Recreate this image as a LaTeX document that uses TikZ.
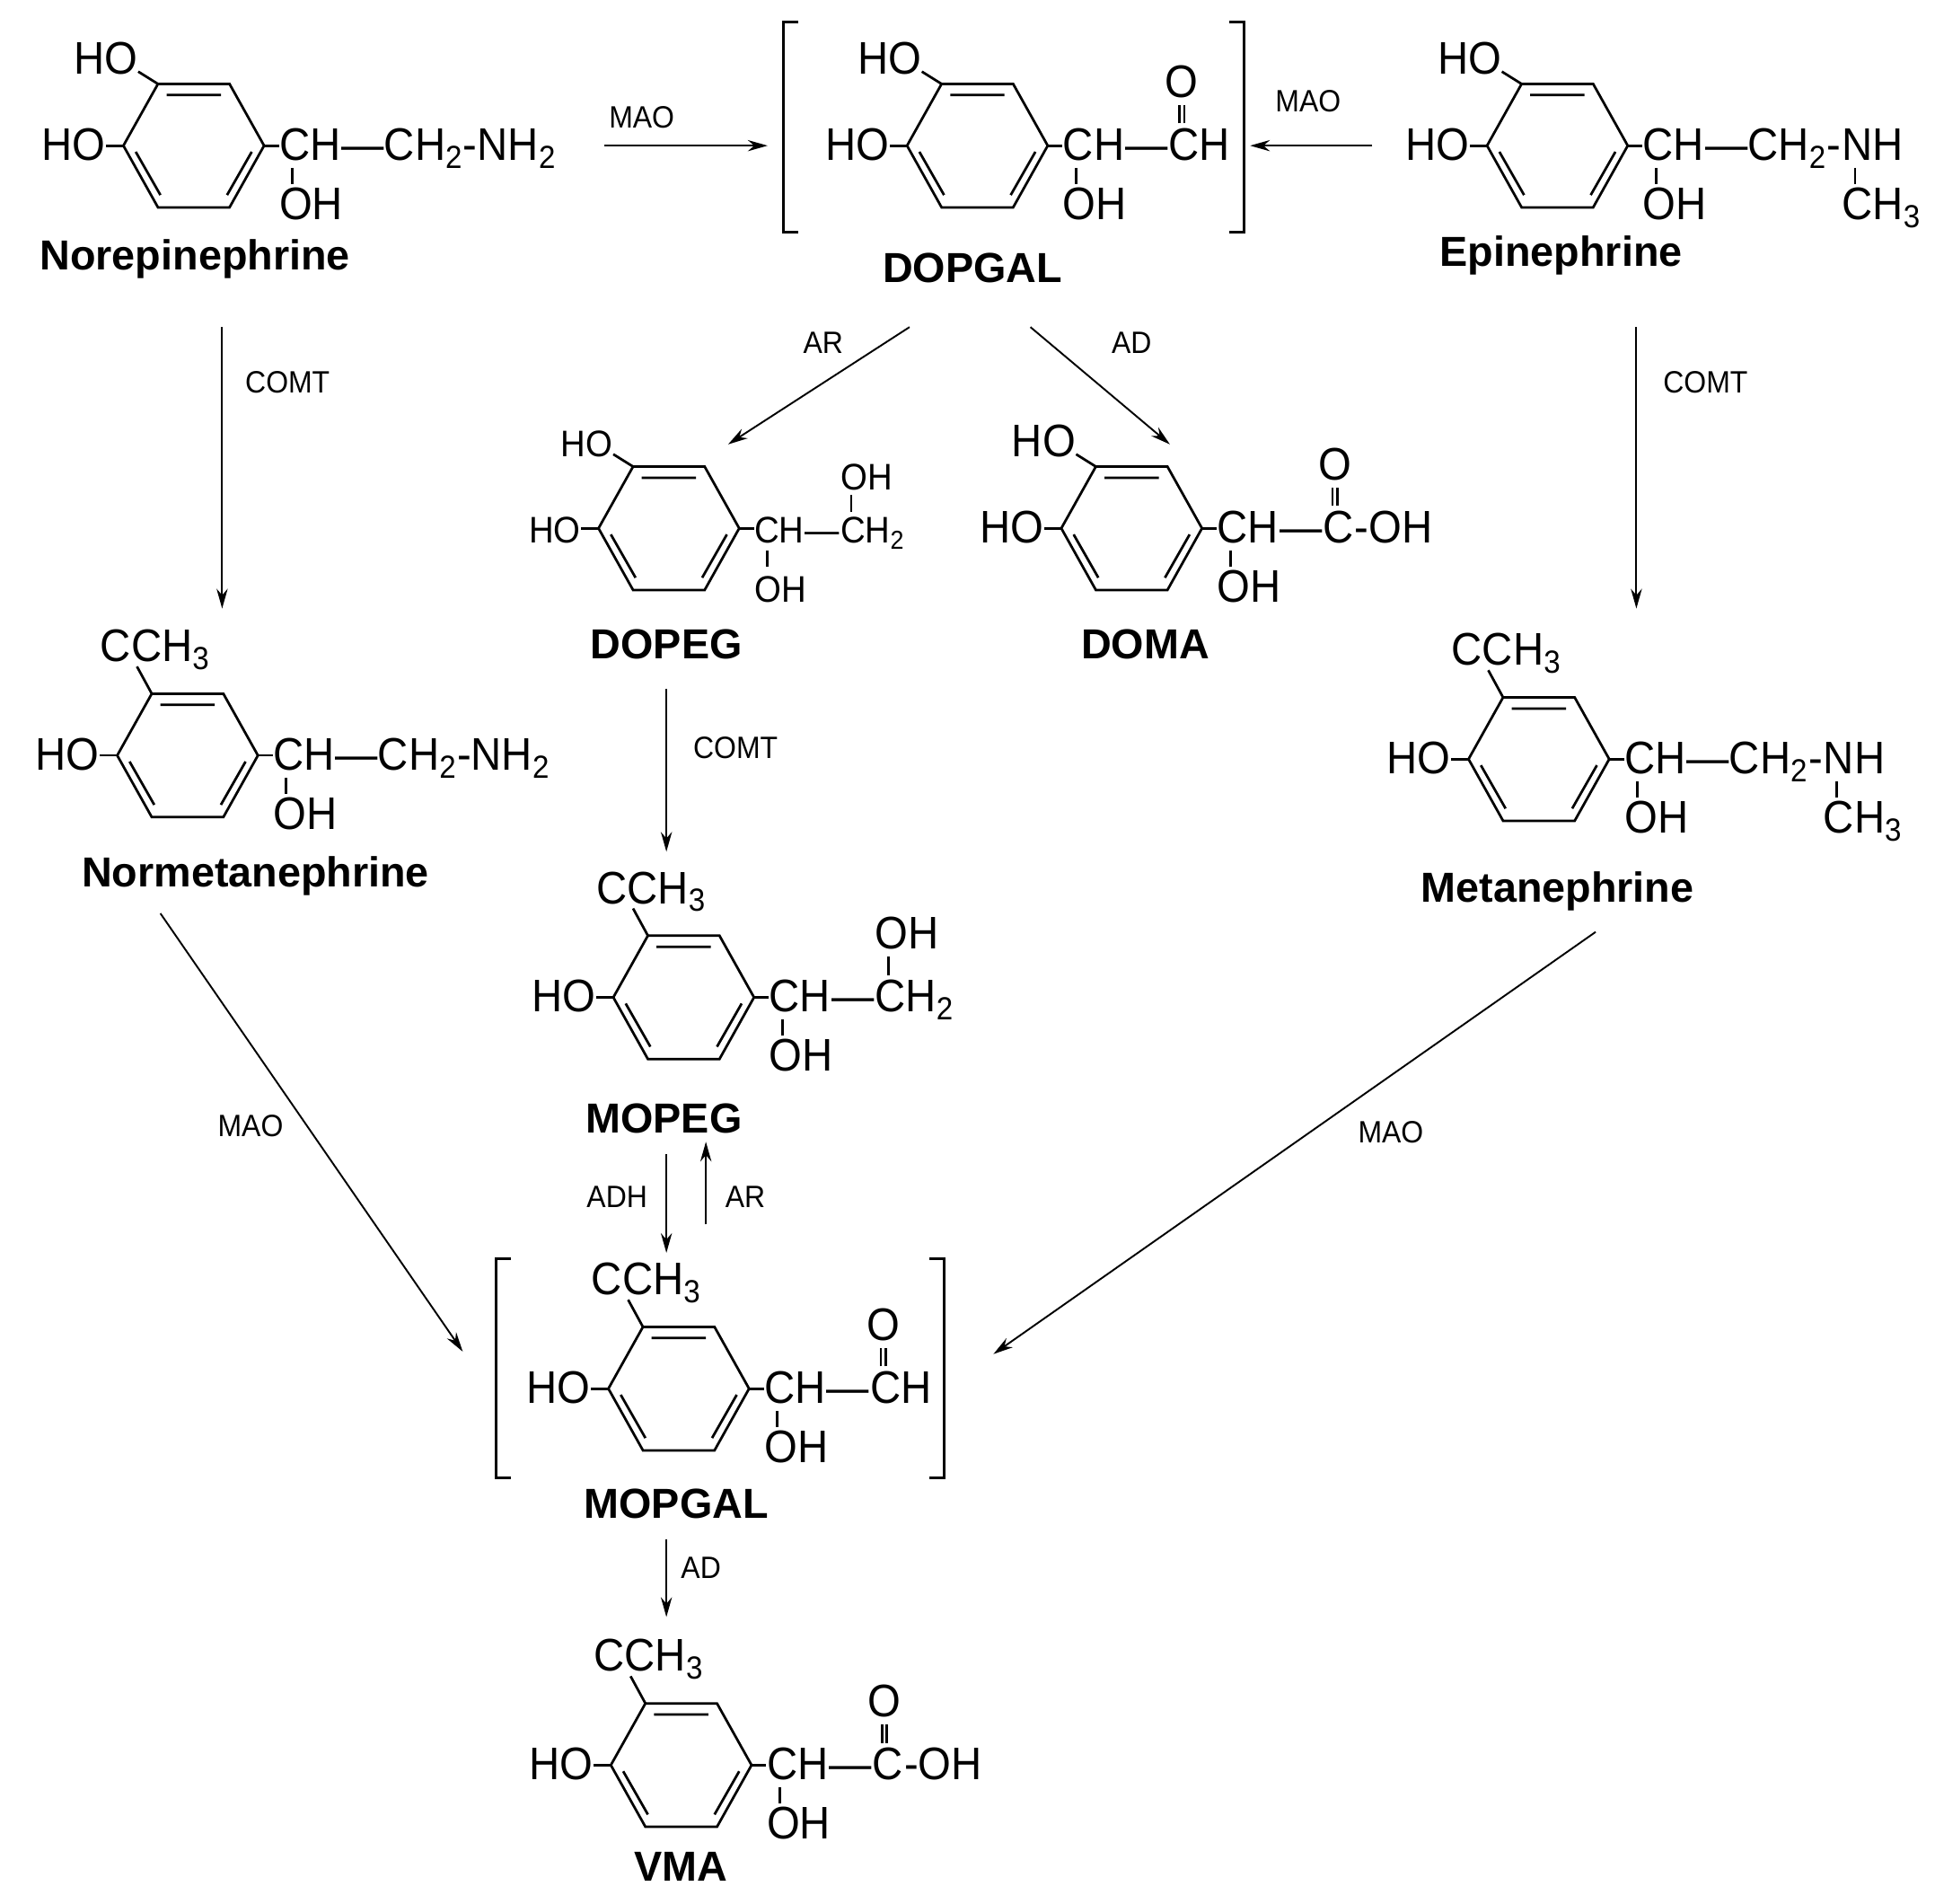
\documentclass[tikz,border=0pt]{standalone}
\usepackage{fontspec}
\newfontfamily\chem{Liberation Sans}[FakeStretch=0.93]
\newfontfamily\chemw{Liberation Sans}
\usetikzlibrary{arrows.meta,calc}

\tikzset{
  bond/.style={line width=1pt},
  chem/.style={font=\chem\fontsize{18.5}{20}\selectfont, inner sep=0pt},
  chems/.style={font=\chem\fontsize{15}{17}\selectfont, inner sep=0pt},
  title/.style={font=\chemw\bfseries\fontsize{17}{19}\selectfont, inner sep=0pt},
  enz/.style={font=\chem\fontsize{12.5}{14}\selectfont, inner sep=0pt},
  rx/.style={line width=0.7pt, -{Stealth[length=8pt,width=4.5pt]}},
}

% benzene ring, flat top and bottom
\newcommand\benz[3]{%
  \begin{scope}[shift={(#2,#3)}]
    \coordinate (#1-l) at (-57,0);  \coordinate (#1-r) at (57,0);
    \coordinate (#1-tl) at (-29,-50); \coordinate (#1-tr) at (29,-50);
    \coordinate (#1-bl) at (-29,50); \coordinate (#1-br) at (29,50);
    \draw[bond] (#1-l)--(#1-tl)--(#1-tr)--(#1-r)--(#1-br)--(#1-bl)--cycle;
    \draw[bond] (-22,-41)--(22,-41) (-47,5)--(-27,40) (47,5)--(27,40);
  \end{scope}}
% ring with two OH groups
\newcommand\catechol[4]{%
  \benz{#1}{#2}{#3}
  \draw[bond] (#1-tl) -- ++(-16,-10);
  \node[#4,anchor=base east] (#1-ho2) at ($(#1-tl)+(-16,-8)$) {HO};
  \draw[bond] (#1-l) -- ++(-14,0);
  \node[#4,anchor=base east] (#1-ho1) at ($(#1-l)+(-14,12)$) {HO};}
% ring with methoxy and OH
\newcommand\guaiacol[4]{%
  \benz{#1}{#2}{#3}
  \draw[bond] (#1-tl) -- ++(-12,-22);
  \node[#4,anchor=base west] (#1-me) at ($(#1-tl)+(-42,-26)$) {CCH\textsubscript{3}};
  \draw[bond] (#1-l) -- ++(-14,0);
  \node[#4,anchor=base east] (#1-ho1) at ($(#1-l)+(-14,12)$) {HO};}
% CH(OH) side chain start
\newcommand\sidechain[3]{%
  \draw[bond] (#1-r) -- ++(12,0);
  \node[#2,anchor=base west] (#1-c) at ($(#1-r)+(12,12)$) {CH};
  \node[#2,anchor=base west] (#1-d) at (#1-c.base east) {#3};
  \draw[bond] ($(#1-c.base west)+(11,6)$) -- ++(0,13);
  \node[#2,anchor=base west] (#1-oh) at ($(#1-c.base west)+(0,48)$) {OH};}

\begin{document}
\begin{tikzpicture}[x=0.5pt,y=-0.5pt]
\useasboundingbox (0,0) rectangle (1568,1542);

% Norepinephrine
\catechol{ne}{157}{118}{chem}
\sidechain{ne}{chem}{—CH\textsubscript{2}-NH\textsubscript{2}}
\node[title] (ne-name) at (158,210) {Norepinephrine};

% DOPGAL
\catechol{dg}{792}{118}{chem}
\sidechain{dg}{chem}{—}
\node[chem,anchor=base west] (dg-c2) at (dg-d.base east) {CH};
\draw[bond] ($(dg-c2.base west)+(9,-30)$) -- ++(0,-15) ($(dg-c2.base west)+(13,-30)$) -- ++(0,-15);
\node[chem,anchor=base] (dg-o) at ($(dg-c2.base west)+(11,-51)$) {O};
\draw[bond] (647,18) -- (635,18) -- (635,188) -- (647,188);
\draw[bond] (996,18) -- (1008,18) -- (1008,188) -- (996,188);
\node[title] (dg-name) at (788,217) {DOPGAL};

% Epinephrine
\catechol{ep}{1262}{118}{chem}
\sidechain{ep}{chem}{—CH\textsubscript{2}-}
\node[chem,anchor=base west] (ep-n) at (ep-d.base east) {NH};
\draw[bond] ($(ep-n.base west)+(11,6)$) -- ++(0,13);
\node[chem,anchor=base west] (ep-me) at ($(ep-n.base west)+(0,48)$) {CH\textsubscript{3}};
\node[title] (ep-name) at (1265,207) {Epinephrine};

% DOPEG
\catechol{dp}{542}{428}{chems}
\sidechain{dp}{chems}{—}
\node[chems,anchor=base west] (dp-c2) at (dp-d.base east) {CH\textsubscript{2}};
\draw[bond] ($(dp-c2.base west)+(9,-25)$) -- ++(0,-14);
\node[chems,anchor=base west] (dp-o) at ($(dp-c2.base west)+(0,-43)$) {OH};
\node[title] (dp-name) at (540,522) {DOPEG};

% DOMA
\catechol{dm}{917}{428}{chem}
\sidechain{dm}{chem}{—}
\node[chem,anchor=base west] (dm-c2) at (dm-d.base east) {C};
\node[chem,anchor=base west] (dm-e) at (dm-c2.base east) {-OH};
\draw[bond] ($(dm-c2.base west)+(8,-30)$) -- ++(0,-15) ($(dm-c2.base west)+(12,-30)$) -- ++(0,-15);
\node[chem,anchor=base] (dm-o) at ($(dm-c2.base west)+(10,-51)$) {O};
\node[title] (dm-name) at (928,522) {DOMA};

% Normetanephrine
\guaiacol{nm}{152}{612}{chem}
\sidechain{nm}{chem}{—CH\textsubscript{2}-NH\textsubscript{2}}
\node[title] (nm-name) at (207,710) {Normetanephrine};

% Metanephrine
\guaiacol{mn}{1247}{615}{chem}
\sidechain{mn}{chem}{—CH\textsubscript{2}-}
\node[chem,anchor=base west] (mn-n) at (mn-d.base east) {NH};
\draw[bond] ($(mn-n.base west)+(11,6)$) -- ++(0,13);
\node[chem,anchor=base west] (mn-me) at ($(mn-n.base west)+(0,48)$) {CH\textsubscript{3}};
\node[title] (mn-name) at (1262,722) {Metanephrine};

% MOPEG
\guaiacol{mp}{554}{808}{chem}
\sidechain{mp}{chem}{—}
\node[chem,anchor=base west] (mp-c2) at (mp-d.base east) {CH\textsubscript{2}};
\draw[bond] ($(mp-c2.base west)+(11,-30)$) -- ++(0,-15);
\node[chem,anchor=base west] (mp-o) at ($(mp-c2.base west)+(0,-51)$) {OH};
\node[title] (mp-name) at (538,906) {MOPEG};

% MOPGAL
\guaiacol{mg}{550}{1125}{chem}
\sidechain{mg}{chem}{—}
\node[chem,anchor=base west] (mg-c2) at (mg-d.base east) {CH};
\draw[bond] ($(mg-c2.base west)+(9,-30)$) -- ++(0,-15) ($(mg-c2.base west)+(13,-30)$) -- ++(0,-15);
\node[chem,anchor=base] (mg-o) at ($(mg-c2.base west)+(11,-51)$) {O};
\draw[bond] (414,1020) -- (402,1020) -- (402,1197) -- (414,1197);
\draw[bond] (753,1020) -- (765,1020) -- (765,1197) -- (753,1197);
\node[title] (mg-name) at (548,1218) {MOPGAL};

% VMA
\guaiacol{vm}{552}{1430}{chem}
\sidechain{vm}{chem}{—}
\node[chem,anchor=base west] (vm-c2) at (vm-d.base east) {C};
\node[chem,anchor=base west] (vm-e) at (vm-c2.base east) {-OH};
\draw[bond] ($(vm-c2.base west)+(8,-30)$) -- ++(0,-15) ($(vm-c2.base west)+(12,-30)$) -- ++(0,-15);
\node[chem,anchor=base] (vm-o) at ($(vm-c2.base west)+(10,-51)$) {O};
\node[title] (vm-name) at (552,1512) {VMA};

% reaction arrows
\coordinate (a1s) at (490,118);  \coordinate (a1e) at (622,118);
\coordinate (a2s) at (1112,118); \coordinate (a2e) at (1013,118);
\coordinate (a3s) at (737,265);  \coordinate (a3e) at (590,360);
\coordinate (a4s) at (835,265);  \coordinate (a4e) at (948,360);
\coordinate (a5s) at (180,265);  \coordinate (a5e) at (180,493);
\coordinate (a6s) at (1326,265); \coordinate (a6e) at (1326,493);
\coordinate (a7s) at (540,558);  \coordinate (a7e) at (540,690);
\coordinate (a8s) at (540,935);  \coordinate (a8e) at (540,1015);
\coordinate (a9s) at (572,992);  \coordinate (a9e) at (572,925);
\coordinate (b1s) at (130,740);  \coordinate (b1e) at (375,1095);
\coordinate (b2s) at (1293,755); \coordinate (b2e) at (805,1097);
\coordinate (b3s) at (540,1247); \coordinate (b3e) at (540,1310);
\foreach \a in {a1,a2,a3,a4,a5,a6,a7,a8,a9,b1,b2,b3}
  \draw[rx] (\a s) -- (\a e);

\node[enz] (l1) at (520,95) {MAO};
\node[enz] (l2) at (1060,82) {MAO};
\node[enz] (l3) at (667,278) {AR};
\node[enz] (l4) at (917,278) {AD};
\node[enz] (l5) at (233,310) {COMT};
\node[enz] (l6) at (1382,310) {COMT};
\node[enz] (l7) at (596,606) {COMT};
\node[enz] (l8) at (500,970) {ADH};
\node[enz] (l9) at (604,970) {AR};
\node[enz] (l10) at (203,912) {MAO};
\node[enz] (l11) at (1127,917) {MAO};
\node[enz] (l12) at (568,1270) {AD};
\end{tikzpicture}
\end{document}
